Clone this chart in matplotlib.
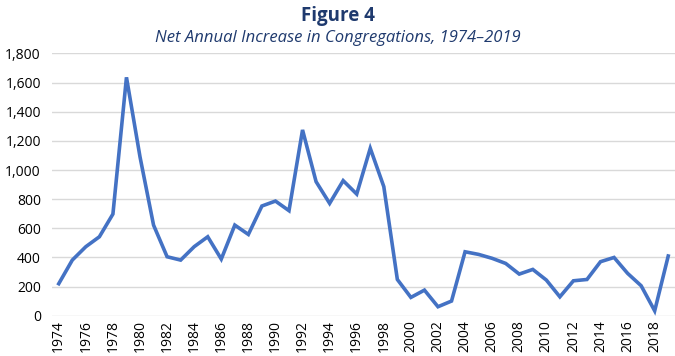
import numpy as np
import matplotlib.pyplot as plt
from matplotlib.ticker import FuncFormatter
from matplotlib import font_manager

# Net annual increase in congregations
years = list(range(1974, 2020))
increase = [220, 382, 474, 542, 698, 1636, 1090, 622, 405, 382,
            474, 542, 389, 622, 558, 753, 787, 721, 1275, 920,
            771, 927, 835, 1149, 886, 249, 126, 176, 62, 101,
            439, 421, 394, 359, 286, 318, 245, 130, 240, 249,
            371, 400, 291, 206, 34, 410]
yticks = list(range(0, 2000, 200))
xticks = list(range(1974, 2020, 2))

plt.rcParams['font.family'] = ['Open Sans', 'DejaVu Sans']

# condensed face for the year labels if one is around
names = {f.name for f in font_manager.fontManager.ttflist}
narrow = 'Liberation Sans Narrow' if 'Liberation Sans Narrow' in names else 'Open Sans'

fig = plt.figure(figsize=(6.75, 3.56), dpi=100)
ax = fig.add_axes([0.077, 0.113, 0.923, 0.737])

ax.plot(years, increase, color='#4472C4', linewidth=2.6, solid_joinstyle='miter')

ax.set_xlim(1973.5, 2019.5)
ax.set_ylim(0, 1800)
ax.set_yticks(yticks)
ax.yaxis.set_major_formatter(FuncFormatter(lambda v, p: f'{int(v):,}'))
ax.set_xticks(xticks)
ax.set_xticklabels([str(y) for y in xticks], rotation=90,
                   family=[narrow, 'DejaVu Sans'], fontsize=10)
ax.tick_params(axis='y', labelsize=10, length=0, pad=8)
ax.tick_params(axis='x', length=0, pad=3)
ax.grid(axis='y', color='#d9d9d9', linewidth=1)
ax.set_axisbelow(True)
for s in ax.spines.values():
    s.set_visible(False)

fig.text(0.5, 0.955, 'Figure 4', ha='center', va='center',
         fontsize=13.5, fontweight='bold', color='#1f3a6e')
fig.text(0.5, 0.893, 'Net Annual Increase in Congregations, 1974\u20132019',
         ha='center', va='center', fontsize=12, style='italic', color='#1f3a6e')

fig.savefig('out.png', dpi=100)
